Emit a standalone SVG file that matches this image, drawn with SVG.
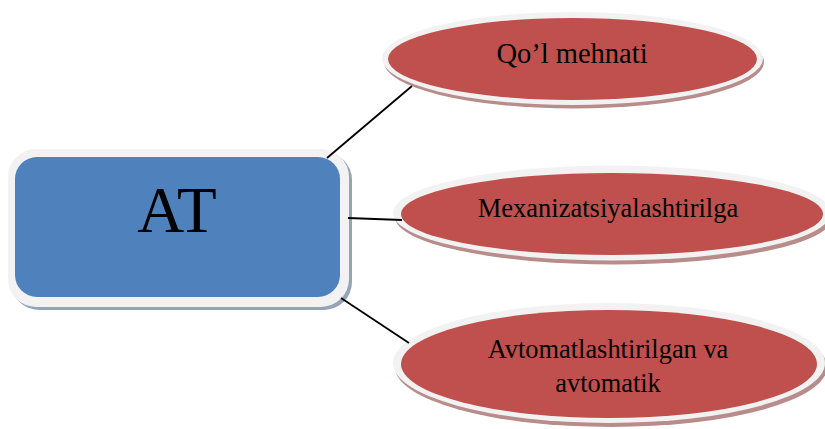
<svg xmlns="http://www.w3.org/2000/svg" width="825" height="429" viewBox="0 0 825 429">
<style>
.rshadow{fill:#95A3B8}
.rborder{fill:#F2F2F2}
.rfill{fill:#4F81BD}
.eshadow{fill:#B98C8C}
.eborder{fill:#F2F2F2}
.efill{fill:#C0504D}
.conn{stroke:#000;stroke-width:1.8;fill:none}
text{font-family:"Liberation Serif","Times New Roman",serif;fill:#000;text-anchor:middle}
</style>
<rect width="825" height="429" fill="#fff"/>
<g id="node-at">
<rect class="rshadow" x="11" y="152" width="341" height="158" rx="28"/>
<rect class="rborder" x="8" y="149" width="341" height="158" rx="28"/>
<rect class="rfill" x="15" y="157" width="325" height="140" rx="22"/>
<text x="177" y="232" font-size="65">AT</text>
</g>
<g id="node-qol">
<ellipse class="eshadow" cx="574" cy="62" rx="190" ry="46.5"/>
<ellipse class="eborder" cx="572.5" cy="58.5" rx="190.5" ry="46.5"/>
<ellipse class="efill" cx="572.5" cy="59" rx="184.5" ry="41"/>
<text x="572" y="63" font-size="28.5">Qo’l mehnati</text>
</g>
<g id="node-mex">
<ellipse class="eshadow" cx="614" cy="217" rx="219" ry="47.5"/>
<ellipse class="eborder" cx="612" cy="213" rx="219" ry="47.5"/>
<ellipse class="efill" cx="612" cy="214" rx="211" ry="41"/>
<text x="608" y="217" font-size="26.5">Mexanizatsiyalashtirilga</text>
</g>
<g id="node-avt">
<ellipse class="eshadow" cx="611" cy="367" rx="216" ry="60"/>
<ellipse class="eborder" cx="609" cy="363" rx="216" ry="60"/>
<ellipse class="efill" cx="609" cy="364" rx="208" ry="54"/>
<text x="608" y="358" font-size="26.4">Avtomatlashtirilgan va</text>
<text x="608" y="392" font-size="26.4">avtomatik</text>
</g>
<g id="connectors">
<line class="conn" x1="327" y1="158" x2="412" y2="86"/>
<line class="conn" x1="348" y1="218" x2="402" y2="220"/>
<line class="conn" x1="341" y1="298" x2="409" y2="343"/>
</g>
</svg>
